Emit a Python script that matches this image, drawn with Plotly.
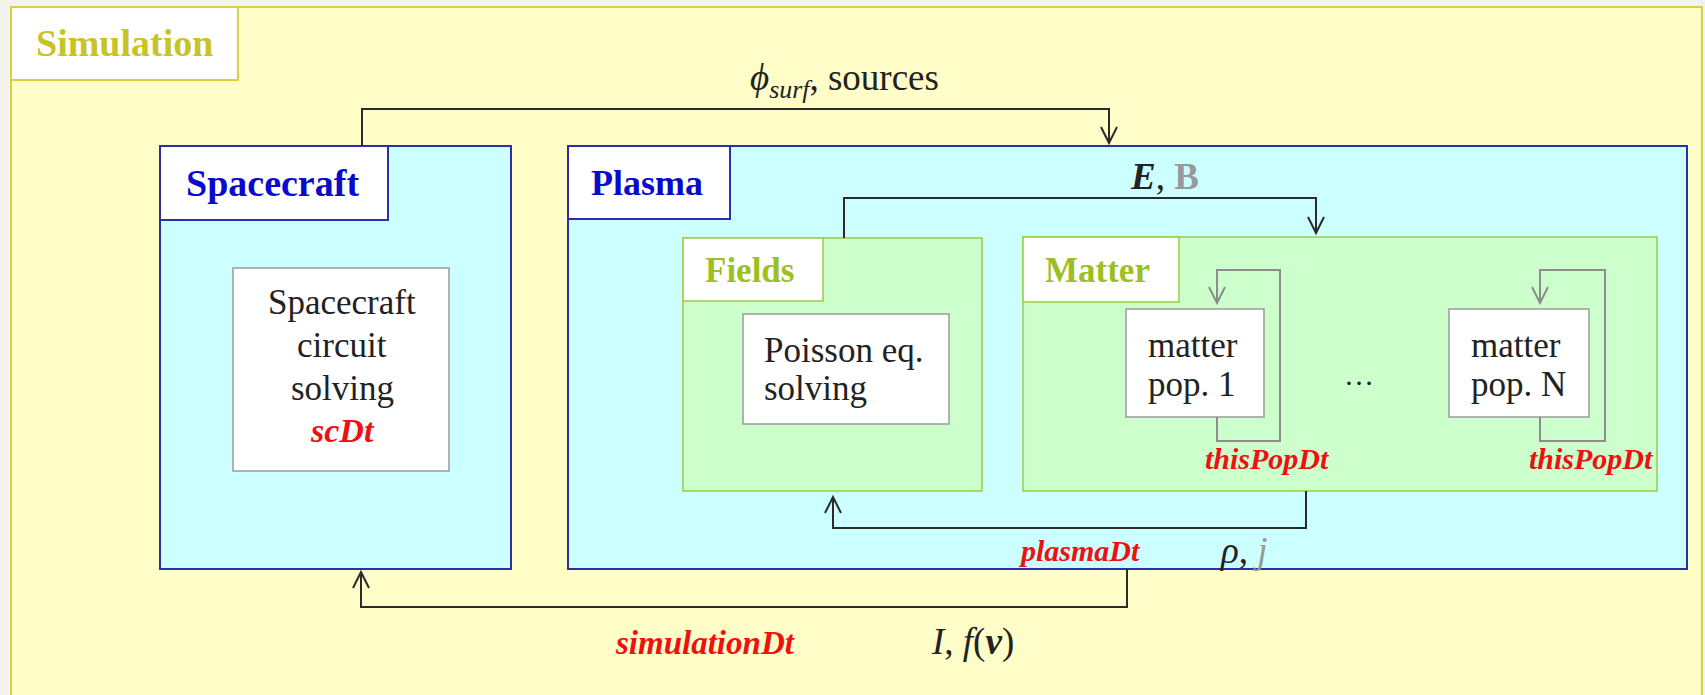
import plotly.graph_objects as go

# --- texts of the diagram -------------------------------------------------
block_titles = ["Simulation", "Spacecraft", "Plasma", "Fields", "Matter"]
sc_solver_lines = ["Spacecraft", "circuit", "solving"]
poisson_lines = ["Poisson eq.", "solving"]
pop_lines = [["matter", "pop. 1"], ["matter", "pop. N"]]
timesteps = ["scDt", "thisPopDt", "plasmaDt", "simulationDt"]
exchanges = [
    "<i>ϕ</i><sub><i>surf</i></sub>, sources",
    "<b><i>E</i></b>, <b><span style='color:#999999'>B</span></b>",
    "<i>ρ</i>, <i><span style='color:#999999'>j</span></i>",
    "<i>I</i>, <i>f</i>(<b><i>v</i></b>)",
]

W, H = 1705, 695
SERIF = "Liberation Serif"
RED = "#ee1111"
INK = "#222222"
ARROW = "#2b2b2b"
GREY = "#8c8c8c"

YEL_FILL, YEL_LINE, YEL_TXT = "#fffdc8", "#d8d040", "#c8c428"
CYAN_FILL, BLUE_LINE, BLUE_TXT = "#ccffff", "#2e2eaa", "#0a0acc"
GREEN_FILL, GREEN_LINE, GREEN_TXT = "#ccffcc", "#9ccc44", "#9cbf22"

shapes = []
annotations = []


def rect(x0, y0, x1, y1, fill, line, width=2):
    shapes.append(dict(type="rect", xref="x", yref="y", x0=x0, y0=y0, x1=x1, y1=y1,
                       fillcolor=fill, line=dict(color=line, width=width)))


def path(points, color, width=2):
    d = "M " + " L ".join(f"{x},{y}" for x, y in points)
    shapes.append(dict(type="path", xref="x", yref="y", path=d,
                       line=dict(color=color, width=width)))


def head(x, y, direction, color, width=2, hw=8, hl=16):
    s = -1 if direction == "down" else 1
    path([(x - hw, y + s * hl), (x, y), (x + hw, y + s * hl)], color, width)


def text(x, y, s, size, color=INK, bold=False, italic=False, anchor="center"):
    if bold:
        s = f"<b>{s}</b>"
    if italic:
        s = f"<i>{s}</i>"
    annotations.append(dict(x=x, y=y, xref="x", yref="y", text=s, showarrow=False,
                            xanchor=anchor, yanchor="middle",
                            font=dict(family=SERIF, size=size, color=color)))


# --- containers ------------------------------------------------------------
rect(11, 7, 1702, 700, YEL_FILL, YEL_LINE)
rect(11, 7, 238, 80, "white", YEL_LINE)
text(124, 43, block_titles[0], 38, YEL_TXT, bold=True)

rect(160, 146, 511, 569, CYAN_FILL, BLUE_LINE)
rect(160, 146, 388, 220, "white", BLUE_LINE)
text(272, 183, block_titles[1], 38, BLUE_TXT, bold=True)

rect(568, 146, 1687, 569, CYAN_FILL, BLUE_LINE)
rect(568, 146, 730, 219, "white", BLUE_LINE)
text(647, 183, block_titles[2], 36, BLUE_TXT, bold=True)

rect(683, 238, 982, 491, GREEN_FILL, GREEN_LINE, 1.5)
rect(683, 238, 823, 301, "white", GREEN_LINE, 1.5)
text(749, 270, block_titles[3], 35, GREEN_TXT, bold=True)

rect(1023, 237, 1657, 491, GREEN_FILL, GREEN_LINE, 1.5)
rect(1023, 237, 1179, 302, "white", GREEN_LINE, 1.5)
text(1097, 270, block_titles[4], 35, GREEN_TXT, bold=True)

# --- solver boxes ----------------------------------------------------------
rect(233, 268, 449, 471, "white", "#9a9a9a", 1.5)
for i, line in enumerate(sc_solver_lines):
    text(342, 302 + 43 * i, line, 35)
text(342, 430, timesteps[0], 34, RED, bold=True, italic=True)

rect(743, 314, 949, 424, "white", "#9a9a9a", 1.5)
for i, line in enumerate(poisson_lines):
    text(762, 350 + 38 * i, line, 35, anchor="left")

for (bx0, bx1, lx, rx), lines in zip([(1126, 1264, 1217, 1280), (1449, 1589, 1540, 1605)], pop_lines):
    rect(bx0, 309, bx1, 417, "white", "#9a9a9a", 1.5)
    for i, line in enumerate(lines):
        text(bx0 + 20, 345 + 39 * i, line, 35, anchor="left")
    path([(lx, 417), (lx, 441), (rx, 441), (rx, 270), (lx, 270), (lx, 303)], GREY, 2)
    head(lx, 303, "down", GREY)
    text((bx0 + bx1) / 2 + 72, 458, timesteps[1], 30, RED, bold=True, italic=True)

text(1359, 374, "…", 30)

# --- exchanges between blocks ---------------------------------------------
path([(362, 146), (362, 109), (1109, 109), (1109, 143)], ARROW)
head(1109, 143, "down", ARROW)
text(844, 80, exchanges[0], 37)

path([(844, 238), (844, 198), (1316, 198), (1316, 233)], ARROW)
head(1316, 233, "down", ARROW)
text(1164, 176, exchanges[1], 37)

path([(1306, 491), (1306, 528), (833, 528), (833, 497)], ARROW)
head(833, 497, "up", ARROW)
text(1079, 550, timesteps[2], 30, RED, bold=True, italic=True)
text(1244, 550, exchanges[2], 37)

path([(1127, 569), (1127, 607), (361, 607), (361, 572)], ARROW)
head(361, 572, "up", ARROW)
text(705, 643, timesteps[3], 33, RED, bold=True, italic=True)
text(972, 642, exchanges[3], 37)

fig = go.Figure()
fig.update_layout(
    width=W, height=H,
    margin=dict(l=0, r=0, t=0, b=0),
    paper_bgcolor="#f4f4ee", plot_bgcolor="#f4f4ee",
    xaxis=dict(range=[0, W], visible=False, fixedrange=True),
    yaxis=dict(range=[H, 0], visible=False, fixedrange=True),
    shapes=shapes, annotations=annotations,
    showlegend=False,
)

fig.write_html("out.html", config={"displayModeBar": False},
               post_script="document.body.style.margin='0';")
